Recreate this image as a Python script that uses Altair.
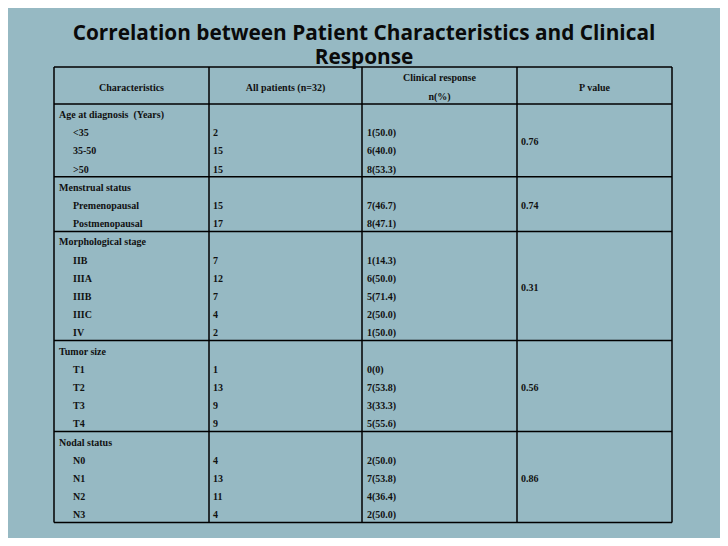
import altair as alt
import pandas as pd

# ---- data ----
title_lines = ["Correlation between Patient Characteristics and Clinical", "Response"]
headers = ["Characteristics", "All patients (n=32)", "Clinical response", "P value"]
header_sub = "n(%)"
groups = ["Age at diagnosis\u00a0\u00a0(Years)", "Menstrual status", "Morphological stage", "Tumor size", "Nodal status"]
sub_labels = [
    ["<35", "35-50", ">50"],
    ["Premenopausal", "Postmenopausal"],
    ["IIB", "IIIA", "IIIB", "IIIC", "IV"],
    ["T1", "T2", "T3", "T4"],
    ["N0", "N1", "N2", "N3"],
]
all_patients = [
    ["2", "15", "15"],
    ["15", "17"],
    ["7", "12", "7", "4", "2"],
    ["1", "13", "9", "9"],
    ["4", "13", "11", "4"],
]
responses = [
    ["1(50.0)", "6(40.0)", "8(53.3)"],
    ["7(46.7)", "8(47.1)"],
    ["1(14.3)", "6(50.0)", "5(71.4)", "2(50.0)", "1(50.0)"],
    ["0(0)", "7(53.8)", "3(33.3)", "5(55.6)"],
    ["2(50.0)", "7(53.8)", "4(36.4)", "2(50.0)"],
]
p_values = ["0.76", "0.74", "0.31", "0.56", "0.86"]

# ---- layout ----
BG = "#96b9c3"
col_edges = [54, 209, 362, 517, 672]
table_top = 67
header_bottom = 104
line_h = 18.2
FONT = "Liberation Serif"

cell_rows = []   # left-aligned text
p_rows = []
hlines = [table_top, header_bottom]
i = 0
for g, subs, ns, rs, p in zip(groups, sub_labels, all_patients, responses, p_values):
    start = i
    cell_rows.append({"x": col_edges[0] + 5, "y": header_bottom + line_h * (i + 0.6), "t": g})
    i += 1
    for s, n, r in zip(subs, ns, rs):
        y = header_bottom + line_h * (i + 0.6)
        cell_rows.append({"x": col_edges[0] + 19, "y": y, "t": s})
        cell_rows.append({"x": col_edges[1] + 4, "y": y, "t": n})
        cell_rows.append({"x": col_edges[2] + 5, "y": y, "t": r})
        i += 1
    p_rows.append({"x": col_edges[3] + 4, "y": header_bottom + line_h * (start + i) / 2 + 2, "t": p})
    hlines.append(header_bottom + line_h * i)
table_bottom = hlines[-1]

xs = alt.Scale(domain=[8, 720])
ys = alt.Scale(domain=[8, 538], reverse=True)

def X(f):
    return alt.X(f, type="quantitative", scale=xs, axis=None)

def Y(f):
    return alt.Y(f, type="quantitative", scale=ys, axis=None)

hl = pd.DataFrame({"y": hlines, "x1": col_edges[0], "x2": col_edges[-1]})
vl = pd.DataFrame({"x": col_edges, "y1": table_top, "y2": table_bottom})

hrules = alt.Chart(hl).mark_rule(color="black", strokeWidth=1.5).encode(
    x=X("x1"), x2="x2", y=Y("y"))
vrules = alt.Chart(vl).mark_rule(color="black", strokeWidth=1.5).encode(
    x=X("x"), y=Y("y1"), y2="y2")

body = alt.Chart(pd.DataFrame(cell_rows + p_rows)).mark_text(
    align="left", baseline="middle", font=FONT, fontWeight="bold", fontSize=10, color="#111111"
).encode(x=X("x"), y=Y("y"), text="t:N")

hdr_rows = []
for k, h in enumerate(headers):
    cx = (col_edges[k] + col_edges[k + 1]) / 2
    if k == 2:
        hdr_rows.append({"x": cx, "y": 78, "t": h})
        hdr_rows.append({"x": cx, "y": 97, "t": header_sub})
    else:
        hdr_rows.append({"x": cx, "y": 88, "t": h})
hdr = alt.Chart(pd.DataFrame(hdr_rows)).mark_text(
    align="center", baseline="middle", font=FONT, fontWeight="bold", fontSize=10, color="#111111"
).encode(x=X("x"), y=Y("y"), text="t:N")

ttl = alt.Chart(pd.DataFrame({"x": [364], "y": [34], "t": ["\n".join(title_lines)]})).mark_text(
    align="center", baseline="middle", font="Open Sans", fontWeight="bold", fontSize=20.8,
    lineBreak="\n", lineHeight=23.5, color="#0a0a0a"
).encode(x=X("x"), y=Y("y"), text="t:N")

chart = alt.layer(hrules, vrules, hdr, body, ttl).properties(
    width=712, height=530, background=BG, padding=0,
    autosize=alt.AutoSizeParams(type="none"),
).configure_view(stroke=None)

chart.save("out.html", embed_options={"renderer": "svg", "actions": False})
